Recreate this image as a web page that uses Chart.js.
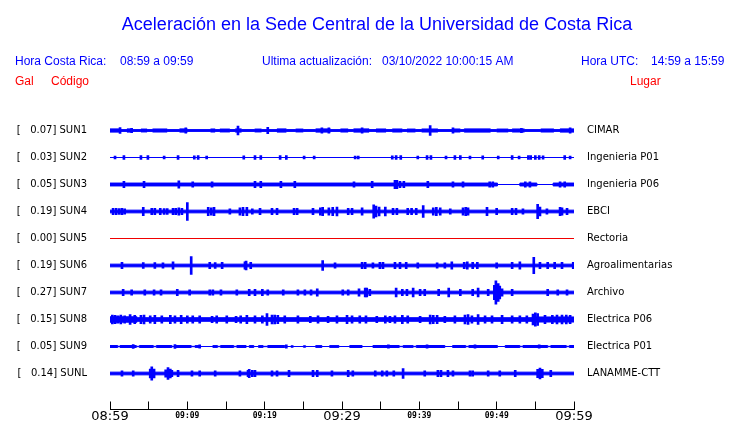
<!DOCTYPE html>
<html>
<head>
<meta charset="utf-8">
<script src="https://cdn.jsdelivr.net/npm/chart.js@4"></script>
<style>
  html, body { margin: 0; padding: 0; background: #fff; }
  #wrap { width: 740px; height: 423px; }
</style>
</head>
<body>
<div id="wrap"><canvas id="chart" width="740" height="423"></canvas></div>
<script>
// station codes, peak acceleration (Gal) and place, top to bottom
const codes = ['SUN1', 'SUN2', 'SUN3', 'SUN4', 'SUN5', 'SUN6', 'SUN7', 'SUN8', 'SUN9', 'SUNL'];
const gal = ['0.07', '0.03', '0.05', '0.19', '0.00', '0.19', '0.27', '0.15', '0.05', '0.14'];
const places = ['CIMAR', 'Ingenieria P01', 'Ingenieria P06', 'EBCI', 'Rectoria', 'Agroalimentarias',
  'Archivo', 'Electrica P06', 'Electrica P01', 'LANAMME-CTT'];

// x axis: minutes after 08:59, one tick every 5 minutes
const timeLabels = ['08:59', '', '09:09', '', '09:19', '', '09:29', '', '09:39', '', '09:49', '', '09:59'];
const bigLabels = ['08:59', '09:29', '09:59'];

// background noise envelope per trace: [minute, half amplitude] held until the next entry
const sun1Band = [[0, 1.8], [1.3, 1.0], [2.2, 1.8], [2.8, 1.0], [4.0, 1.6], [4.8, 1.0], [5.5, 1.7], [7.4, 1.0],
  [9.0, 1.8], [10.0, 1.0], [13.0, 1.7], [13.6, 1.0], [14.2, 1.6], [15.5, 1.0], [16.2, 1.8], [17.0, 1.0],
  [18.7, 1.6], [19.6, 1.0], [21.6, 1.8], [22.8, 1.0], [24.0, 1.6], [25.0, 1.0], [26.6, 1.8], [28.5, 1.0],
  [29.8, 1.7], [30.8, 1.0], [31.5, 1.8], [33.5, 1.0], [34.4, 1.7], [35.7, 1.0], [36.5, 1.7], [37.8, 1.0],
  [38.4, 1.6], [39.5, 1.0], [40.3, 1.7], [42.4, 1.0], [44.3, 1.7], [45.3, 1.0], [45.8, 1.8], [49.2, 1.0],
  [50.0, 1.6], [51.5, 1.0], [52.0, 1.7], [53.6, 1.0], [55.7, 1.7], [57.4, 1.0], [58.2, 1.8], [60, 1.8]];
const sun2Band = [[0, 0], [60, 0]];
const sun3Band = [[0, 1.6], [50.1, 0], [53.0, 1.6], [55.2, 0], [57.3, 1.6], [60, 1.6]];
const sun4Band = [[0, 1.5], [60, 1.5]];
const sun5Band = [[0, 0], [60, 0]];
const sun6Band = [[0, 1.5], [60, 1.5]];
const sun7Band = [[0, 1.5], [60, 1.5]];
const sun8Band = [[0, 3.0], [3.5, 2.0], [54.6, 2.8], [60, 2.8]];
const sun9Band = [[0, 1.1], [1.0, 0.2], [1.3, 1.1], [3.4, 0.2], [3.8, 1.1], [5.6, 0.2], [6.0, 1.1], [8.0, 0.2],
  [8.5, 1.1], [10.5, 0.2], [11.0, 1.0], [11.6, 0], [13.3, 1.0], [13.9, 0.2], [14.3, 1.1], [16.0, 0.2],
  [16.4, 1.1], [17.6, 0], [18.0, 1.0], [18.6, 0], [19.2, 1.0], [19.8, 0.2], [20.4, 1.1], [22.6, 0],
  [23.4, 0.8], [23.7, 0], [25.0, 0.8], [25.3, 0], [26.6, 1.0], [27.4, 0], [28.4, 1.0], [29.6, 0],
  [31.0, 1.1], [32.6, 0], [34.0, 1.1], [37.4, 0.2], [37.9, 1.0], [39.2, 0.2], [39.6, 1.1], [43.3, 0],
  [44.3, 1.1], [46.0, 0.2], [46.4, 1.1], [50.1, 0], [51.1, 1.1], [53.0, 0.2], [53.4, 1.1], [56.6, 0.2],
  [57.0, 1.1], [59.0, 0.2], [59.4, 1.1], [60, 1.1]];
const sunLBand = [[0, 1.5], [60, 1.5]];

// bursts per trace: [minute, half amplitude]
const sun1Spikes = [[1.3, 3.3], [2.8, 2.5], [9.8, 3], [16.55, 5], [20.4, 3.5], [27.4, 3], [28.3, 3],
  [32.6, 3], [41.4, 5.5], [44.35, 3], [53.2, 2.5], [59.5, 3]];
const sun2Spikes = [[0.65, 1.5], [1.8, 2], [4.0, 2], [4.9, 2], [7.0, 1.5], [8.8, 2.2], [10.9, 1.8], [11.4, 2],
  [12.5, 1.5], [17.3, 1.8], [18.75, 2], [19.5, 2], [22.0, 2], [22.8, 2], [25.1, 1.5], [26.4, 1.5], [31.7, 1.5],
  [32.1, 1.5], [36.5, 1.8], [37.0, 2], [37.6, 2], [39.8, 1.5], [41.0, 2], [41.5, 2], [43.45, 1.5], [44.6, 2],
  [45.3, 2], [46.55, 1.5], [48.2, 1.8], [50.2, 1.5], [52.0, 2], [52.9, 1.5], [54.1, 2], [54.4, 2], [55.0, 2],
  [55.5, 2], [56.0, 1.8], [58.8, 2], [59.5, 1.5]];
const sun3Spikes = [[1.8, 3.5], [4.4, 3.5], [8.9, 4], [10.7, 3], [13.2, 3], [18.75, 3.5], [19.5, 3.5],
  [22.1, 3.5], [23.9, 3.5], [31.55, 3], [33.9, 3.5], [36.85, 4.5], [37.1, 4.5], [37.5, 3.5], [38.0, 3.5],
  [41.1, 3.5], [44.35, 3], [45.65, 3], [49.1, 3], [49.5, 3], [53.7, 3], [54.3, 3], [58.2, 3], [58.8, 3]];
const sun4Spikes = [[0.4, 3.5], [0.8, 3.5], [1.2, 3.3], [1.55, 3.5], [1.9, 3], [4.3, 4.5], [5.4, 3.5],
  [5.8, 3.5], [6.5, 3.5], [7.0, 3.3], [7.4, 3.3], [8.15, 3.5], [8.5, 3.5], [8.9, 4], [9.3, 3.5], [10.0, 10],
  [12.7, 4.5], [13.1, 4], [13.45, 4.5], [15.5, 3], [16.8, 4], [17.2, 4.5], [17.7, 4.5], [18.4, 3], [19.4, 3.5],
  [20.95, 3.5], [21.6, 3.5], [23.8, 3.5], [24.2, 3.5], [26.25, 3.5], [27.2, 4], [27.5, 4.5], [28.3, 4],
  [28.8, 4.5], [29.35, 5], [30.8, 3.5], [31.3, 3.5], [32.6, 4], [34.1, 7.5], [34.4, 6], [34.8, 5], [35.6, 5],
  [36.6, 3.5], [37.1, 3.5], [38.5, 3.5], [39.0, 3.5], [39.6, 3.5], [40.5, 6.5], [41.8, 4], [42.2, 4.5],
  [42.7, 4], [44.0, 3], [45.65, 4], [46.0, 4.5], [46.3, 4], [48.75, 4.5], [50.0, 3.5], [52.0, 3.5],
  [52.5, 3.5], [53.4, 3], [55.3, 8], [55.6, 5], [56.5, 3], [58.2, 4.5], [58.45, 4], [59.1, 3.5]];
const sun5Spikes = [];
const sun6Spikes = [[1.55, 3.5], [4.3, 3.3], [5.8, 3.3], [6.85, 3], [8.15, 4], [10.5, 10], [12.9, 3.5],
  [13.6, 3.3], [14.5, 3.5], [17.45, 4], [17.6, 5], [18.2, 3.5], [27.5, 5.5], [29.1, 3], [32.6, 3.5],
  [33.0, 3.5], [34.0, 3], [34.9, 3.5], [35.3, 3.5], [36.85, 3.5], [37.5, 3.5], [38.3, 3.5], [39.8, 3],
  [42.3, 3], [43.3, 3], [44.2, 4], [45.8, 3.5], [46.2, 4], [46.9, 3.5], [47.5, 3.5], [50.0, 3], [52.0, 3.5],
  [53.0, 4], [54.8, 9], [55.6, 3.5], [56.6, 3.5], [57.5, 3.5], [58.45, 3.5], [59.9, 3.5]];
const sun7Spikes = [[1.7, 3.5], [2.8, 3], [4.5, 3], [5.7, 3], [6.6, 3], [8.7, 3.5], [10.3, 3], [12.9, 3],
  [13.3, 3], [14.35, 3], [16.4, 3], [18.0, 3.5], [18.75, 3.5], [19.7, 3.5], [20.4, 3], [22.4, 3], [24.3, 3],
  [25.2, 3], [26.0, 3], [26.8, 4], [30.1, 3], [30.8, 3], [32.2, 4], [33.0, 5], [33.2, 5], [33.6, 3.5],
  [37.0, 5], [37.8, 3.5], [38.4, 3.5], [39.2, 5], [40.1, 3.5], [40.7, 3.5], [42.5, 3.5], [43.8, 5],
  [45.3, 3.5], [46.9, 3.5], [47.6, 5], [48.9, 3.5], [49.7, 8], [49.9, 13], [50.2, 10], [50.4, 7], [50.7, 4],
  [52.0, 3.5], [56.6, 3.5], [57.9, 3], [59.1, 3]];
const sun8Spikes = [[0.3, 5], [0.65, 4.5], [1.0, 4], [1.4, 5], [1.9, 4], [2.6, 5.5], [3.2, 4.5], [4.0, 4.5],
  [4.4, 5], [5.2, 4], [5.8, 4.5], [6.7, 4], [7.8, 4.5], [8.4, 4], [9.2, 4.5], [10.0, 4], [10.7, 4], [11.6, 4],
  [13.2, 3.5], [13.8, 4], [15.1, 4], [16.3, 3.5], [16.9, 4], [17.7, 4.5], [18.75, 4], [19.7, 4], [20.3, 6.5],
  [20.95, 5], [21.3, 5], [21.7, 4.5], [22.6, 4], [24.3, 4], [25.9, 3.5], [26.9, 4], [28.2, 3.5], [29.35, 4],
  [30.65, 4.5], [31.3, 4], [32.3, 4], [33.1, 4], [34.5, 3.5], [35.6, 4], [36.2, 3.5], [36.85, 4], [37.8, 4.5],
  [38.5, 4], [40.1, 3.5], [41.4, 5], [41.8, 4.5], [42.3, 4.5], [43.3, 3.5], [44.6, 4], [45.9, 5], [46.3, 5.5],
  [46.8, 4], [47.6, 5.5], [48.5, 4], [49.4, 4], [50.7, 4.5], [52.0, 4], [53.0, 4], [53.9, 4], [54.7, 6],
  [55.0, 7.5], [55.3, 6.5], [56.25, 4.5], [57.2, 4.5], [57.8, 5], [58.45, 5], [59.0, 5], [59.5, 4.5]];
const sun9Spikes = [[3.0, 2], [8.4, 2], [11.6, 1.8], [22.8, 1.8], [36.0, 1.8], [41.0, 1.8], [47.2, 1.8], [55.5, 1.8]];
const sunLSpikes = [[1.55, 3], [3.0, 3], [5.2, 5], [5.4, 7.5], [5.7, 5], [7.2, 4], [7.5, 6.5], [7.8, 5],
  [8.0, 3.5], [8.8, 3.5], [10.6, 3], [11.6, 3], [13.6, 3], [16.8, 3], [17.85, 3.5], [18.0, 4.5], [18.4, 3.5],
  [18.75, 3.5], [20.95, 3], [21.6, 3], [23.15, 3.5], [26.25, 3.5], [26.8, 3.5], [28.7, 3], [30.8, 3.5],
  [31.4, 3], [34.3, 3], [35.2, 3], [35.8, 3], [36.7, 3], [37.9, 5.5], [40.7, 3], [42.4, 3.5], [42.8, 3.5],
  [43.7, 3.5], [44.35, 3], [46.55, 3], [46.9, 3], [48.9, 3], [50.4, 3], [52.4, 3.5], [55.3, 4.5], [55.6, 6],
  [55.9, 4.5], [57.0, 3.5]];

const bands = [sun1Band, sun2Band, sun3Band, sun4Band, sun5Band, sun6Band, sun7Band, sun8Band, sun9Band, sunLBand];
const spikes = [sun1Spikes, sun2Spikes, sun3Spikes, sun4Spikes, sun5Spikes, sun6Spikes, sun7Spikes, sun8Spikes, sun9Spikes, sunLSpikes];

const ROW_STEP = 30;
const rowValue = i => (codes.length - 1 - i) * ROW_STEP;
const traceColor = i => gal[i] === '0.00' ? '#f00000' : '#0000ff';

function buildDatasets() {
    const sets = [];
    codes.forEach((code, i) => {
        const base = rowValue(i);
        const color = traceColor(i);
        sets.push({
            type: 'line', label: code + ' top',
            data: bands[i].map(([t, h]) => ({ x: t, y: base + h })),
            borderColor: color, borderWidth: 1, pointRadius: 0, stepped: true, fill: false
        });
        sets.push({
            type: 'line', label: code + ' bottom',
            data: bands[i].map(([t, h]) => ({ x: t, y: base - h })),
            borderColor: color, backgroundColor: color, borderWidth: 1, pointRadius: 0, stepped: true, fill: '-1'
        });
        sets.push({
            type: 'bar', label: code + ' bursts',
            data: spikes[i].map(([t, a]) => ({ x: t, y: [base - a, base + a] })),
            backgroundColor: color, borderWidth: 0, barThickness: 2, grouped: false
        });
    });
    return sets;
}

const rowTicks = scale => { scale.ticks = codes.map((c, i) => ({ value: rowValue(i) })); };

// keep the label padding of the side axes from pushing the plot area
function sideFit(width) {
    return scale => {
        scale.width = width;
        scale.paddingTop = 0;
        scale.paddingBottom = 0;
    };
}

// header texts drawn on the canvas
const headerPlugin = {
    id: 'header',
    afterDraw(chart) {
        const ctx = chart.ctx;
        ctx.save();
        ctx.textBaseline = 'alphabetic';
        ctx.fillStyle = '#0000ff';
        ctx.font = '18px "Liberation Sans", Arial, sans-serif';
        ctx.textAlign = 'center';
        ctx.fillText('Aceleración en la Sede Central de la Universidad de Costa Rica', 377, 30);
        ctx.textAlign = 'left';
        ctx.font = '12px "Liberation Sans", Arial, sans-serif';
        ctx.fillText('Hora Costa Rica:', 15, 65);
        ctx.fillText('08:59 a 09:59', 120, 65);
        ctx.fillText('Ultima actualización:', 262, 65);
        ctx.fillText('03/10/2022 10:00:15 AM', 382, 65);
        ctx.fillText('Hora UTC:', 581, 65);
        ctx.fillText('14:59 a 15:59', 651, 65);
        ctx.fillStyle = '#ff0000';
        ctx.fillText('Gal', 15, 85);
        ctx.fillText('Código', 51, 85);
        ctx.fillText('Lugar', 630, 85);
        ctx.restore();
    }
};

const chart = new Chart(document.getElementById('chart'), {
    type: 'line',
    data: { datasets: buildDatasets() },
    options: {
        responsive: false,
        animation: false,
        events: [],
        layout: { padding: { top: 112.5, left: 0, right: 0, bottom: 0 } },
        plugins: { legend: { display: false }, tooltip: { enabled: false }, title: { display: false } },
        scales: {
            x: {
                type: 'linear', min: 0, max: 60, offset: false,
                afterFit: scale => { scale.height = 13.5; },
                border: { display: true, color: '#000', width: 1 },
                grid: { offset: false, drawOnChartArea: false, drawTicks: true, tickLength: -8, color: '#000', lineWidth: 1 },
                ticks: {
                    stepSize: 5, autoSkip: false, maxRotation: 0, padding: 7, color: '#000',
                    callback: (v, i) => timeLabels[i],
                    font: c => bigLabels.includes(timeLabels[c.index])
                        ? { family: 'DejaVu Sans', size: 13, lineHeight: 1.2 }
                        : { family: 'DejaVu Sans Mono', size: 8, weight: 'bold', lineHeight: 1.75 }
                }
            },
            y: {
                type: 'linear', position: 'left', min: -40, max: 290,
                afterFit: sideFit(110),
                afterBuildTicks: rowTicks,
                border: { display: false },
                grid: { display: false, drawTicks: false },
                ticks: {
                    autoSkip: false, padding: 23, color: '#000',
                    font: { family: 'DejaVu Sans', size: 10 },
                    callback: (v, i) => '[   ' + gal[i] + '] ' + codes[i]
                }
            },
            places: {
                type: 'linear', position: 'right', min: -40, max: 290,
                afterFit: sideFit(166),
                afterBuildTicks: rowTicks,
                border: { display: false },
                grid: { display: false, drawTicks: false },
                ticks: {
                    autoSkip: false, padding: 13, color: '#000',
                    font: { family: 'DejaVu Sans', size: 10 },
                    callback: (v, i) => places[i]
                }
            }
        }
    },
    plugins: [headerPlugin]
});
</script>
</body>
</html>
